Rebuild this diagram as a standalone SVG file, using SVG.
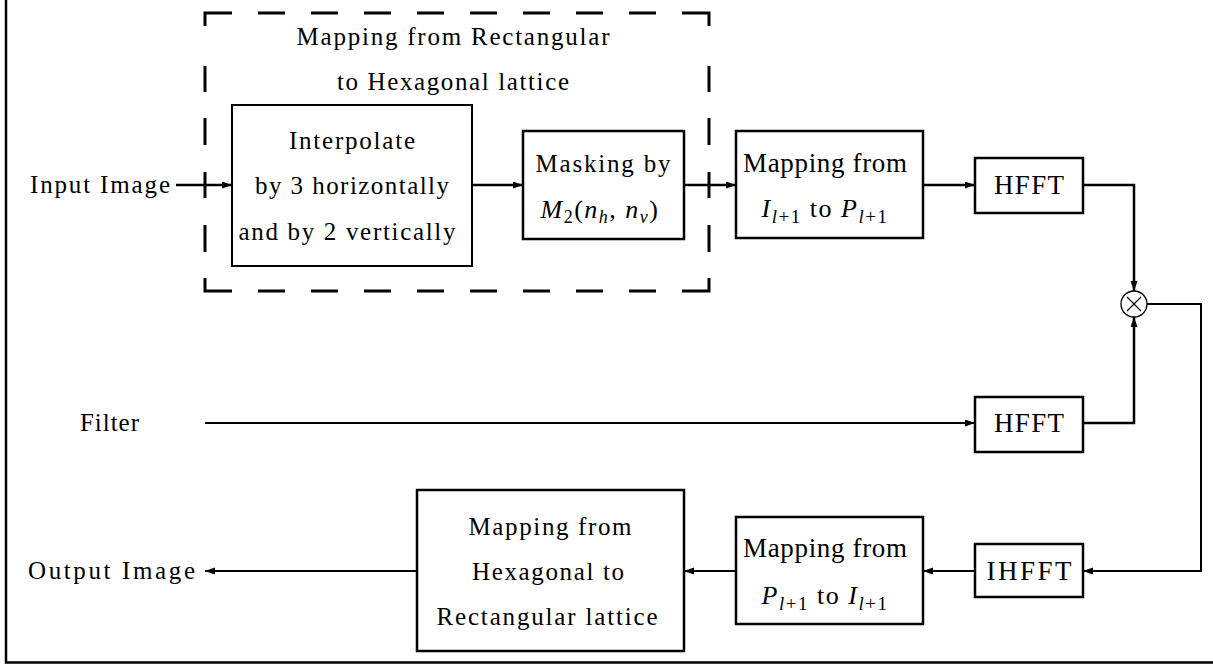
<svg xmlns="http://www.w3.org/2000/svg" width="1213" height="665" viewBox="0 0 1213 665" font-family="Liberation Serif, DejaVu Serif, serif">
<style>
  text { fill: #000; }
  .t { font-size: 25px; }
  .tl { font-size: 27px; }
  .m { font-size: 26px; letter-spacing: 1.5px; }
  .it { font-style: italic; }
  .box { fill: #fff; stroke: #000; stroke-width: 2.5; }
  .box2 { fill: #fff; stroke: #000; stroke-width: 2; }
  .c { fill: none; stroke: #000; stroke-width: 2.5; }
  .cthin { fill: none; stroke: #000; stroke-width: 2; }
</style>
<defs>
  <marker id="ah" markerUnits="userSpaceOnUse" markerWidth="11" markerHeight="8" refX="10" refY="3.5" orient="auto">
    <path d="M0,0 L10,3.5 L0,7 z" fill="#000"/>
  </marker>
</defs>
<rect width="1213" height="665" fill="#fff"/>

<g id="frame">
  <path d="M6,0 V662.5 H1213" fill="none" stroke="#000" stroke-width="2.5"/>
</g>

<g id="lattice-mapping-group">
  <path fill="none" stroke="#000" stroke-width="3" d="
    M205,26 V13 H232
    M258,13 H285 M311,13 H338 M364,13 H391 M417,13 H444 M470,13 H497 M523,13 H550 M576,13 H603 M629,13 H656
    M682,13 H709 V26
    M205,66 V92 M205,118 V145 M205,172 V198 M205,225 V252
    M709,66 V92 M709,118 V145 M709,172 V198 M709,225 V252
    M205,278 V291 H232
    M258,291 H285 M311,291 H338 M364,291 H391 M417,291 H444 M470,291 H497 M523,291 H550 M576,291 H603 M629,291 H656
    M682,291 H709 V278"/>
  <text class="t" font-family="Liberation Serif" x="453" y="45" text-anchor="middle" textLength="313" lengthAdjust="spacing">Mapping from Rectangular</text>
  <text class="t" font-family="Liberation Serif" x="453" y="90" text-anchor="middle" textLength="232" lengthAdjust="spacing">to Hexagonal lattice</text>
</g>

<g id="connectors">
  <line class="c" x1="176" y1="185" x2="232" y2="185" marker-end="url(#ah)"/>
  <line class="c" x1="472" y1="185" x2="523" y2="185" marker-end="url(#ah)"/>
  <line class="c" x1="684" y1="185" x2="736" y2="185" marker-end="url(#ah)"/>
  <line class="c" x1="923" y1="185" x2="975" y2="185" marker-end="url(#ah)"/>
  <path class="c" d="M1083,185 H1134 V291" marker-end="url(#ah)"/>
  <line class="cthin" x1="205" y1="423" x2="975" y2="423" marker-end="url(#ah)"/>
  <path class="c" d="M1083,423 H1134 V317" marker-end="url(#ah)"/>
  <path class="cthin" d="M1147,304 H1201 V571 H1083" marker-end="url(#ah)"/>
  <line class="cthin" x1="975" y1="571" x2="923" y2="571" marker-end="url(#ah)"/>
  <line class="cthin" x1="736" y1="571" x2="684" y2="571" marker-end="url(#ah)"/>
  <line class="cthin" x1="416" y1="571" x2="205" y2="571" marker-end="url(#ah)"/>
</g>

<g id="input-label">
  <text class="t" x="30" y="193" textLength="140" lengthAdjust="spacing">Input Image</text>
</g>
<g id="filter-label">
  <text class="t" x="80" y="431" textLength="59" lengthAdjust="spacing">Filter</text>
</g>
<g id="output-label">
  <text class="t" x="28" y="579" textLength="167" lengthAdjust="spacing">Output Image</text>
</g>

<g id="interpolate">
  <rect class="box2" x="232" y="105" width="240" height="161"/>
  <text class="t" x="352" y="149" text-anchor="middle" textLength="126" lengthAdjust="spacing">Interpolate</text>
  <text class="t" x="352" y="194" text-anchor="middle" textLength="194" lengthAdjust="spacing">by 3 horizontally</text>
  <text class="t" x="347" y="240" text-anchor="middle" textLength="217" lengthAdjust="spacing">and by 2 vertically</text>
</g>

<g id="masking">
  <rect class="box" x="523" y="131" width="161" height="108" stroke-width="3"/>
  <text class="t" x="603" y="172" text-anchor="middle" textLength="135" lengthAdjust="spacing">Masking by</text>
  <text class="m" x="600" y="218" text-anchor="middle"><tspan class="it">M</tspan><tspan font-size="18" dy="5">2</tspan><tspan dy="-5">(</tspan><tspan class="it">n</tspan><tspan class="it" font-size="18" dy="5">h</tspan><tspan dy="-5">, </tspan><tspan class="it">n</tspan><tspan class="it" font-size="18" dy="5">v</tspan><tspan dy="-5">)</tspan></text>
</g>

<g id="map-i-to-p">
  <rect class="box" x="736" y="131" width="187" height="107" stroke-width="3"/>
  <text class="tl" x="825" y="172" text-anchor="middle" textLength="164" lengthAdjust="spacing">Mapping from</text>
  <text class="m" x="825" y="217" text-anchor="middle"><tspan class="it">I</tspan><tspan font-size="19" dy="6"><tspan class="it">l</tspan>+1</tspan><tspan dy="-6"> to </tspan><tspan class="it">P</tspan><tspan font-size="19" dy="6"><tspan class="it">l</tspan>+1</tspan></text>
</g>

<g id="hfft-top">
  <rect class="box" x="975" y="158" width="108" height="55" stroke-width="3"/>
  <text class="tl" x="1029" y="194" text-anchor="middle" textLength="70" lengthAdjust="spacing">HFFT</text>
</g>

<g id="multiply">
  <circle cx="1134" cy="304" r="13" fill="#fff" stroke="#000" stroke-width="1.3"/>
  <path d="M1127,297 L1141,311 M1141,297 L1127,311" stroke="#000" stroke-width="1.2"/>
</g>

<g id="hfft-filter">
  <rect class="box" x="975" y="397" width="108" height="55" stroke-width="3"/>
  <text class="tl" x="1029" y="432" text-anchor="middle" textLength="70" lengthAdjust="spacing">HFFT</text>
</g>

<g id="ihfft">
  <rect class="box" x="975" y="544" width="108" height="53" stroke-width="3"/>
  <text class="tl" x="1029" y="580" text-anchor="middle" textLength="85" lengthAdjust="spacing">IHFFT</text>
</g>

<g id="map-p-to-i">
  <rect class="box" x="736" y="517" width="187" height="107" stroke-width="3"/>
  <text class="tl" x="825" y="557" text-anchor="middle" textLength="164" lengthAdjust="spacing">Mapping from</text>
  <text class="m" x="825" y="604" text-anchor="middle"><tspan class="it">P</tspan><tspan font-size="19" dy="6"><tspan class="it">l</tspan>+1</tspan><tspan dy="-6"> to </tspan><tspan class="it">I</tspan><tspan font-size="19" dy="6"><tspan class="it">l</tspan>+1</tspan></text>
</g>

<g id="hex-to-rect">
  <rect class="box" x="417" y="490" width="267" height="161"/>
  <text class="t" x="550" y="535" text-anchor="middle" textLength="163" lengthAdjust="spacing">Mapping from</text>
  <text class="t" x="548" y="580" text-anchor="middle" textLength="152" lengthAdjust="spacing">Hexagonal to</text>
  <text class="t" x="547" y="625" text-anchor="middle" textLength="221" lengthAdjust="spacing">Rectangular lattice</text>
</g>
</svg>
